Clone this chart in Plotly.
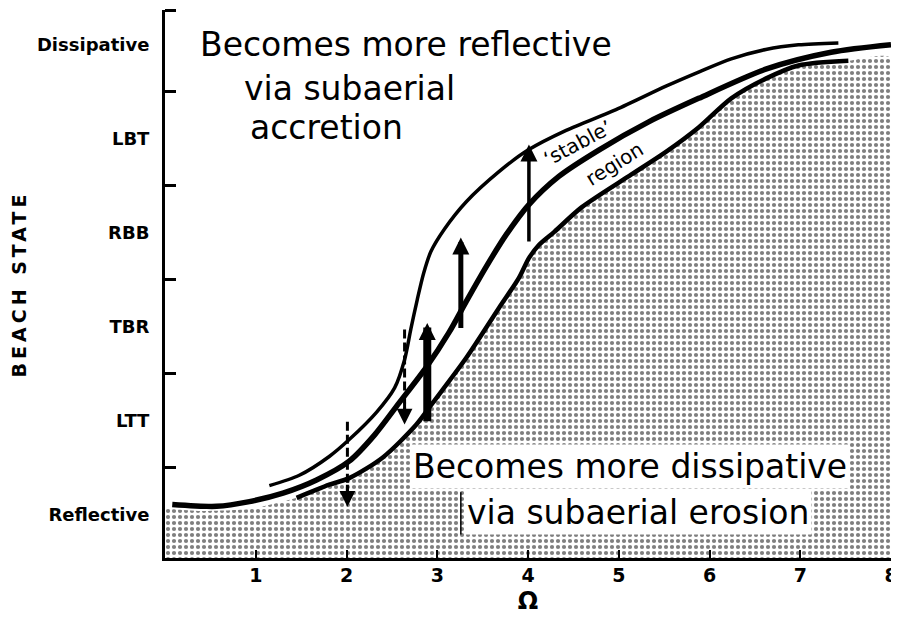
import plotly.graph_objects as go

# ---------------- data ----------------
state_labels = ["Reflective", "LTT", "TBR", "RBB", "LBT", "Dissipative"]
state_values = [0, 1, 2, 3, 4, 5]
boundary_ticks = [0.5, 1.5, 2.5, 3.5, 4.5, 5.36]
omega_ticks = [1, 2, 3, 4, 5, 6, 7, 8]

# equilibrium (thick) curve
main_x = [0.08, 0.57, 0.93, 1.30, 1.67, 2.03, 2.31, 2.58, 2.88, 3.13, 3.32, 3.54,
          3.76, 4.01, 4.34, 4.78, 5.33, 5.88, 6.62, 7.34, 8.00]
main_y = [0.11, 0.09, 0.14, 0.23, 0.37, 0.57, 0.85, 1.19, 1.57, 1.94, 2.27, 2.64,
          2.98, 3.30, 3.60, 3.88, 4.18, 4.43, 4.74, 4.92, 5.00]

# upper limit of 'stable' region
upper_x = [1.15, 1.48, 1.81, 2.03, 2.33, 2.53, 2.64, 2.71, 2.78, 2.85, 2.93, 3.08,
           3.32, 3.68, 4.00, 4.42, 4.97, 5.52, 5.88, 6.24, 6.62, 6.98, 7.42]
upper_y = [0.31, 0.42, 0.62, 0.80, 1.09, 1.35, 1.65, 1.98, 2.29, 2.57, 2.80, 3.04,
           3.33, 3.65, 3.88, 4.09, 4.31, 4.56, 4.71, 4.85, 4.95, 5.00, 5.02]

# lower limit of 'stable' region (edge of stippled area)
lower_x = [1.45, 1.81, 2.03, 2.40, 2.77, 2.95, 3.32, 3.68, 3.90, 4.01, 4.12, 4.29,
           4.59, 5.14, 5.52, 5.88, 6.24, 6.62, 6.98, 7.53]
lower_y = [0.18, 0.32, 0.39, 0.61, 0.96, 1.19, 1.67, 2.20, 2.52, 2.73, 2.87, 3.01,
           3.27, 3.62, 3.86, 4.12, 4.43, 4.64, 4.78, 4.83]

# stippled (erosion) area: top edge
stipple_x = [0.0, 0.39, 0.93] + lower_x + [8.0]
stipple_y = [0.07, 0.04, 0.06] + lower_y + [4.86]

# arrows
dashed_x = [2.01, 2.64]
dashed_from = [0.99, 1.97]
dashed_to = [0.085, 0.96]

solid_x = [2.89, 3.26, 4.01]
solid_from = [0.98, 1.97, 2.89]
solid_to = [2.04, 2.95, 3.94]
solid_width = [8, 5, 3.5]

x_range = [0, 8.0]
y_range = [-0.46, 5.37]

# ---------------- figure ----------------
fig = go.Figure()

poly_x = stipple_x + [x_range[1], x_range[0]]
poly_y = stipple_y + [y_range[0], y_range[0]]
fig.add_trace(go.Scatter(
    x=poly_x, y=poly_y, mode="lines", fill="toself",
    line=dict(color="rgba(0,0,0,0)", width=0, shape="spline", smoothing=0.6),
    fillcolor="white",
    fillpattern=dict(shape=".", size=6, solidity=0.38, fgcolor="black", bgcolor="white"),
    hoverinfo="skip", showlegend=False))

fig.add_trace(go.Scatter(x=lower_x, y=lower_y, mode="lines",
                         line=dict(color="black", width=4.5, shape="spline", smoothing=0.8),
                         showlegend=False, hoverinfo="skip"))
fig.add_trace(go.Scatter(x=upper_x, y=upper_y, mode="lines",
                         line=dict(color="black", width=3.5, shape="spline", smoothing=0.8),
                         showlegend=False, hoverinfo="skip"))
fig.add_trace(go.Scatter(x=main_x, y=main_y, mode="lines",
                         line=dict(color="black", width=5.5, shape="spline", smoothing=0.8),
                         showlegend=False, hoverinfo="skip"))

# dashed arrows (shafts + heads)
for xv, y0, y1 in zip(dashed_x, dashed_from, dashed_to):
    fig.add_trace(go.Scatter(x=[xv, xv], y=[y0, y1 + 0.12], mode="lines",
                             line=dict(color="black", width=3, dash="9px,4px"),
                             showlegend=False, hoverinfo="skip"))
    fig.add_annotation(x=xv, y=y1, ax=xv, ay=y1 + 0.25, xref="x", yref="y",
                       axref="x", ayref="y", showarrow=True, arrowhead=2,
                       arrowsize=1.05, arrowwidth=3, arrowcolor="black", text="")

# solid arrows
for xv, y0, y1, w in zip(solid_x, solid_from, solid_to, solid_width):
    fig.add_annotation(x=xv, y=y1, ax=xv, ay=y0, xref="x", yref="y",
                       axref="x", ayref="y", showarrow=True, arrowhead=2,
                       arrowsize=3.4 / w, arrowwidth=w, arrowcolor="black", text="")

big_font = dict(family="DejaVu Sans, sans-serif", size=33, color="black")

fig.add_annotation(x=0.36, y=5.00, xref="x", yref="y", xanchor="left", yanchor="middle",
                   text="Becomes more reflective", showarrow=False, font=big_font)
fig.add_annotation(x=0.85, y=4.54, xref="x", yref="y", xanchor="left", yanchor="middle",
                   text="via subaerial", showarrow=False, font=big_font)
fig.add_annotation(x=0.92, y=4.12, xref="x", yref="y", xanchor="left", yanchor="middle",
                   text="accretion", showarrow=False, font=big_font)

fig.add_annotation(x=2.70, y=0.51, xref="x", yref="y", xanchor="left", yanchor="middle",
                   text="Becomes more dissipative", showarrow=False, font=big_font,
                   bgcolor="white", borderpad=2)
fig.add_annotation(x=3.30, y=0.02, xref="x", yref="y", xanchor="left", yanchor="middle",
                   text="via subaerial erosion", showarrow=False, font=big_font,
                   bgcolor="white", borderpad=2)
# edge of the pasted label box
fig.add_shape(type="line", x0=3.26, x1=3.26, y0=-0.21, y1=0.24, xref="x", yref="y",
              line=dict(color="black", width=1.5))

small_font = dict(family="DejaVu Sans, sans-serif", size=20, color="black")
fig.add_annotation(x=4.55, y=3.95, xref="x", yref="y", text="\u2018stable\u2019",
                   showarrow=False, textangle=-28, font=small_font)
fig.add_annotation(x=4.95, y=3.73, xref="x", yref="y", text="region",
                   showarrow=False, textangle=-32, font=small_font)

tick_font = dict(family="DejaVu Sans, sans-serif", size=18, color="black", weight="bold")

# the page body adds an 8 px offset, so the figure is sized/margined to compensate
fig.update_layout(
    width=891, height=619,
    margin=dict(l=157, r=8, t=2, b=69),
    paper_bgcolor="white", plot_bgcolor="white",
    showlegend=False,
    xaxis=dict(
        range=x_range, tickvals=omega_ticks, ticktext=[str(v) for v in omega_ticks],
        ticks="inside", ticklen=8, tickwidth=2, tickcolor="black",
        showline=True, linecolor="black", linewidth=3, mirror=False,
        showgrid=False, zeroline=False, ticklabeloverflow="allow", automargin=False,
        tickfont=dict(family="DejaVu Sans, sans-serif", size=19, color="black", weight="bold"),
        ticklabelstandoff=-2,
        title=dict(text="\u03a9", font=dict(family="DejaVu Sans, sans-serif", size=24,
                                            color="black", weight="bold"), standoff=8),
    ),
    yaxis=dict(
        range=y_range, tickvals=state_values, ticktext=state_labels,
        ticks="", showline=True, linecolor="black", linewidth=3,
        showgrid=False, zeroline=False, automargin=False,
        tickfont=tick_font, ticklabelstandoff=9,
        minor=dict(tickmode="array", tickvals=boundary_ticks, ticks="inside",
                   ticklen=11, tickwidth=2.5, tickcolor="black", showgrid=False),
        title=dict(text='<span style="letter-spacing:4px">BEACH STATE</span>',
                   font=dict(family="DejaVu Sans, sans-serif", size=19,
                             color="black", weight="bold"), standoff=10),
    ),
)

fig.write_html("out.html")
